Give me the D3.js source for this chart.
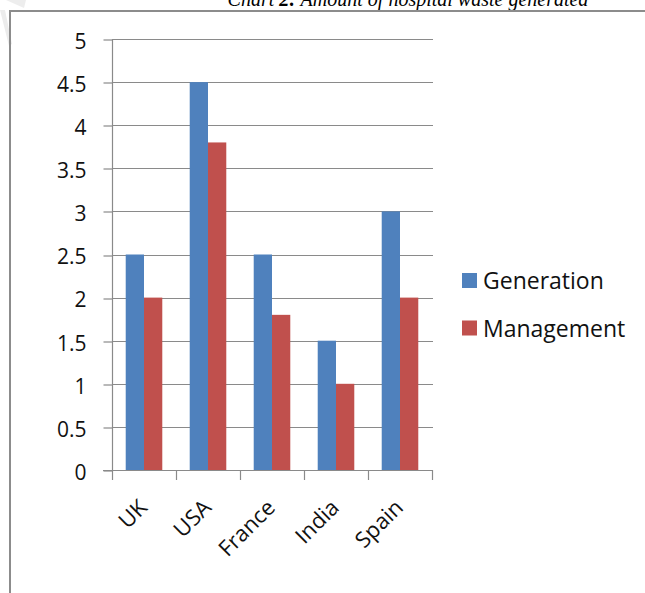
<!DOCTYPE html>
<html>
<head>
<meta charset="utf-8">
<script src="https://cdn.jsdelivr.net/npm/d3@7"></script>
<style>
  html, body { margin: 0; padding: 0; background: #fff; }
  svg { display: block; }
</style>
</head>
<body>
<svg id="chart" width="645" height="593"></svg>
<script>
// Hospital waste per country, two series
const countries = ["UK", "USA", "France", "India", "Spain"];
const generation = [2.5, 4.5, 2.5, 1.5, 3];
const management = [2, 3.8, 1.8, 1, 2];
const seriesNames = ["Generation", "Management"];
const seriesColors = ["#4F81BD", "#C0504D"];
const yTicks = [0, 0.5, 1, 1.5, 2, 2.5, 3, 3.5, 4, 4.5, 5];

const svg = d3.select("#chart");
const font = "'Open Sans', 'Noto Sans', sans-serif";
const gridColor = "#8a8a8a";
const textColor = "#111";

// faint page watermark strokes in the corner
svg.append("path")
  .attr("d", "M0,10 L5,10 L12,44 L9,46 Z")
  .attr("fill", "#ececec");
svg.append("path")
  .attr("d", "M6,0 L26,0 L24,8 Z")
  .attr("fill", "#ededed");

// caption above the frame
const title = svg.append("text")
  .attr("x", 408).attr("y", 6)
  .attr("text-anchor", "middle")
  .attr("font-family", "'Liberation Serif', 'Times New Roman', serif")
  .attr("font-style", "italic")
  .attr("font-size", 20)
  .attr("fill", "#000");
title.append("tspan").text("Chart ");
title.append("tspan").attr("font-weight", "bold").text("2:");
title.append("tspan").text(" Amount of hospital waste generated");

// chart frame
svg.append("path")
  .attr("d", "M10,593 L10,11 L645,11")
  .attr("fill", "none")
  .attr("stroke", "#8c8c8c")
  .attr("stroke-width", 2);

const x0 = d3.scaleBand().domain(countries).range([112, 432]).paddingInner(0).paddingOuter(0);
const bw = x0.bandwidth() / 3.5;
const x1 = d3.scaleBand().domain(seriesNames)
  .range([0.75 * bw, 2.75 * bw]).padding(0);
const y = d3.scaleLinear().domain([0, 5]).range([470, 39]);

// horizontal gridlines
svg.append("g").selectAll("line").data(yTicks.filter(d => d > 0)).join("line")
  .attr("x1", 112).attr("x2", 433)
  .attr("y1", d => Math.round(y(d)) + 0.5).attr("y2", d => Math.round(y(d)) + 0.5)
  .attr("stroke", gridColor).attr("stroke-width", 1.2);

// bars
const rows = countries.map((c, i) => ({ c, vals: [generation[i], management[i]] }));
svg.append("g").selectAll("g").data(rows).join("g")
  .attr("transform", d => `translate(${x0(d.c)},0)`)
  .selectAll("rect").data(d => d.vals.map((v, k) => ({ v, k }))).join("rect")
  .attr("x", d => x1(seriesNames[d.k]))
  .attr("width", x1.bandwidth())
  .attr("y", d => y(d.v))
  .attr("height", d => y(0) - y(d.v))
  .attr("fill", d => seriesColors[d.k]);

// y axis
const yAxis = svg.append("g")
  .attr("transform", "translate(112.5,0.5)")
  .call(d3.axisLeft(y).tickValues(yTicks).tickSize(9).tickPadding(17)
    .tickFormat(d3.format("")));
yAxis.select(".domain").attr("stroke", gridColor).attr("stroke-width", 1.2)
  .attr("d", `M0,${y(5) - 0.5}V${y(0)}`);
yAxis.selectAll(".tick line").attr("stroke", gridColor).attr("stroke-width", 1.2)
  .attr("transform", d => `translate(0,${Math.round(y(d)) - y(d)})`);
yAxis.selectAll(".tick text")
  .attr("font-family", font).attr("font-size", 21).attr("fill", textColor)
  .attr("dy", "0.42em");

// x axis
const xAxisG = svg.append("g");
xAxisG.append("line")
  .attr("x1", 103).attr("x2", 433)
  .attr("y1", 470.5).attr("y2", 470.5)
  .attr("stroke", gridColor).attr("stroke-width", 1.2);
const bounds = countries.map(c => x0(c)).concat([x0.range()[1]]);
xAxisG.selectAll("line.tk").data(bounds).join("line")
  .attr("class", "tk")
  .attr("x1", d => Math.round(d) + 0.5).attr("x2", d => Math.round(d) + 0.5)
  .attr("y1", 470).attr("y2", 480)
  .attr("stroke", gridColor).attr("stroke-width", 1.2);
xAxisG.selectAll("text").data(countries).join("text")
  .attr("text-anchor", "end")
  .attr("transform", d => `translate(${x0(d) + x0.bandwidth() / 2 + 4.5},509) rotate(-45)`)
  .attr("font-family", font).attr("font-size", 22).attr("fill", textColor)
  .text(d => d);

// legend
const legend = svg.append("g").selectAll("g").data(seriesNames).join("g")
  .attr("transform", (d, i) => `translate(462,${273 + i * 47.5})`);
legend.append("rect")
  .attr("width", 15).attr("height", 15)
  .attr("fill", (d, i) => seriesColors[i]);
legend.append("text")
  .attr("x", 21).attr("y", 16)
  .attr("font-family", font).attr("font-size", 23).attr("fill", textColor)
  .text(d => d);
</script>
</body>
</html>
